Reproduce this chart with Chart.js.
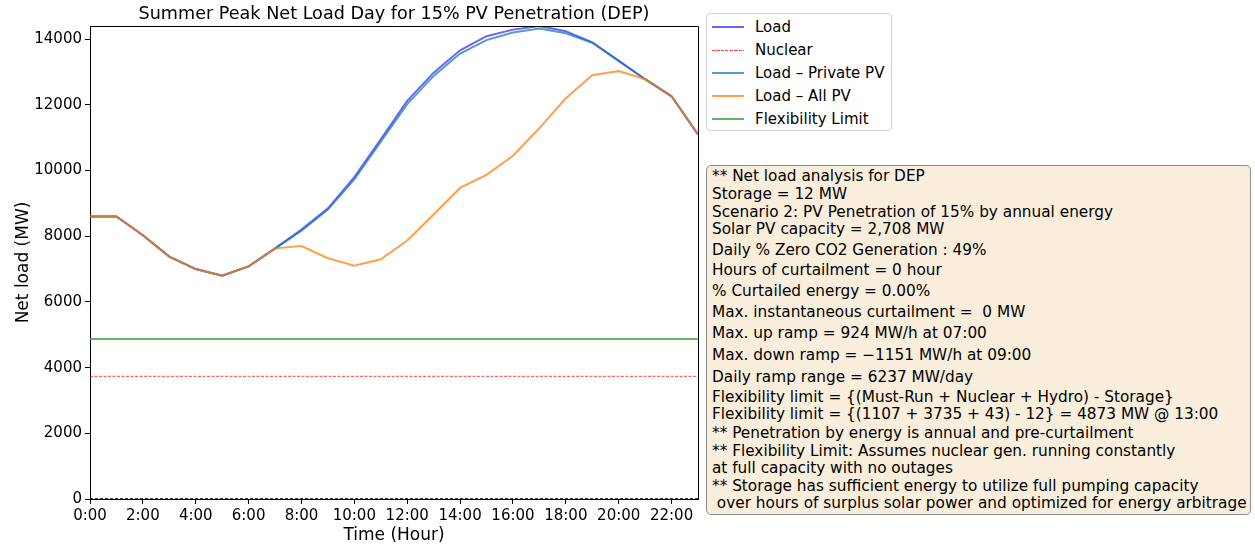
<!DOCTYPE html>
<html>
<head>
<meta charset="utf-8">
<title>Summer Peak Net Load Day</title>
<script src="https://cdn.jsdelivr.net/npm/chart.js@4.4.1/dist/chart.umd.min.js"></script>
<style>
  body { margin: 0; background: #fff; font-family: "DejaVu Sans", sans-serif; }
  #wrap { position: relative; width: 1255px; height: 548px; }
  #legend {
    position: absolute; left: 706px; top: 13px; width: 186px; height: 118px;
    border: 1px solid #d4d4d4; border-radius: 4px; background: #fff; box-sizing: border-box;
  }
  .lg-row { position: absolute; left: 0; height: 20px; font-size: 15px; color: #000; }
  .lg-row span.sw { position: absolute; left: 5px; width: 32px; }
  .lg-row span.tx { position: absolute; left: 48px; top: 0; white-space: nowrap; line-height: 20px; }
  #notes {
    position: absolute; left: 706px; top: 165px; width: 545px; height: 350px;
    border: 1px solid #8c8c8c; border-radius: 5px; background: #f9eedb; box-sizing: border-box;
  }
  #notes div { position: absolute; left: 5px; font-size: 15.3px; white-space: pre; color: #000; line-height: 18px; }
</style>
</head>
<body>
<div id="wrap">
  <canvas id="chart" width="1255" height="548"></canvas>
  <div id="legend"></div>
  <div id="notes"></div>
</div>
<script>
// hourly values, 0:00 .. 23:00 (MW)
const hours = [0, 1, 2, 3, 4, 5, 6, 7, 8, 9, 10, 11, 12, 13, 14, 15, 16, 17, 18, 19, 20, 21, 22, 23];
const load = [8600, 8600, 8030, 7380, 7000, 6800, 7080, 7630, 8200, 8850, 9800, 10950,
  12120, 12980, 13660, 14090, 14290, 14400, 14240, 13900, 13350, 12780, 12260, 11100];
const loadPrivatePV = [8600, 8600, 8030, 7380, 7000, 6800, 7080, 7620, 8170, 8810, 9730, 10880,
  12020, 12880, 13560, 13970, 14200, 14320, 14180, 13890, 13330, 12780, 12260, 11100];
const loadAllPV = [8600, 8600, 8030, 7380, 7000, 6800, 7080, 7630, 7700, 7330, 7100, 7300,
  7870, 8660, 9470, 9870, 10450, 11290, 12200, 12900, 13030, 12780, 12260, 11100];
const nuclear = 3735;
const flexLimit = 4873;

const yTicks = [0, 2000, 4000, 6000, 8000, 10000, 12000, 14000];
const xTicks = [0, 2, 4, 6, 8, 10, 12, 14, 16, 18, 20, 22];

const noteLines = [
  "** Net load analysis for DEP",
  "Storage = 12 MW",
  "Scenario 2: PV Penetration of 15% by annual energy",
  "Solar PV capacity = 2,708 MW",
  "Daily % Zero CO2 Generation : 49%",
  "Hours of curtailment = 0 hour",
  "% Curtailed energy = 0.00%",
  "Max. instantaneous curtailment =  0 MW",
  "Max. up ramp = 924 MW/h at 07:00",
  "Max. down ramp = \u22121151 MW/h at 09:00",
  "Daily ramp range = 6237 MW/day",
  "Flexibility limit = {(Must-Run + Nuclear + Hydro) - Storage}",
  "Flexibility limit = {(1107 + 3735 + 43) - 12} = 4873 MW @ 13:00",
  "** Penetration by energy is annual and pre-curtailment",
  "** Flexibility Limit: Assumes nuclear gen. running constantly",
  "at full capacity with no outages",
  "** Storage has sufficient energy to utilize full pumping capacity",
  " over hours of surplus solar power and optimized for energy arbitrage"
];
// top offsets of each note line inside the box (mathtext lines sit a little lower)
const noteTops = [1, 19, 37, 54, 75, 95, 116, 137, 158, 180, 202, 222, 239, 258, 276, 293, 311, 328];

const toPts = arr => arr.map((v, i) => ({ x: hours[i], y: v }));
const flat = v => hours.map(h => ({ x: h, y: v }));

const series = [
  { label: "Load", data: toPts(load), borderColor: "rgba(0,0,255,0.6)", borderWidth: 2, order: 6 },
  { label: "Nuclear", data: flat(nuclear), borderColor: "rgba(255,0,0,0.75)", borderWidth: 1, borderDash: [3, 1.5], order: 5 },
  { label: "Load \u2013 Private PV", data: toPts(loadPrivatePV), borderColor: "rgba(31,119,180,0.75)", borderWidth: 2, order: 4 },
  { label: "Load \u2013 All PV", data: toPts(loadAllPV), borderColor: "rgba(255,127,14,0.75)", borderWidth: 2, order: 3 },
  { label: "Flexibility Limit", data: flat(flexLimit), borderColor: "rgba(44,160,44,0.75)", borderWidth: 2, order: 2 }
];

const datasets = series.map(s => Object.assign({ pointRadius: 0, tension: 0, fill: false }, s));
// dashed zero line
datasets.push({ label: "zero", data: flat(0), borderColor: "#000", borderWidth: 1.5, borderDash: [3, 2],
  pointRadius: 0, order: 1 });

// title + top/right frame
const framePlugin = {
  id: "frame",
  afterDraw(chart) {
    const { ctx, chartArea: a } = chart;
    ctx.save();
    ctx.strokeStyle = "#000";
    ctx.lineWidth = 1;
    ctx.beginPath();
    ctx.moveTo(a.left, a.top + 0.5);
    ctx.lineTo(a.right + 0.5, a.top + 0.5);
    ctx.lineTo(a.right + 0.5, a.bottom);
    ctx.stroke();
    ctx.fillStyle = "#000";
    ctx.font = "17.6px 'DejaVu Sans'";
    ctx.textAlign = "center";
    ctx.textBaseline = "alphabetic";
    ctx.fillText("Summer Peak Net Load Day for 15% PV Penetration (DEP)", (a.left + a.right) / 2, 19);
    ctx.restore();
  }
};

const tickFont = { family: "'DejaVu Sans'", size: 15 };

new Chart(document.getElementById("chart"), {
  type: "line",
  data: { datasets },
  options: {
    responsive: false,
    animation: false,
    layout: { padding: { top: 26, right: 557, left: 0, bottom: 0 } },
    plugins: { legend: { display: false }, tooltip: { enabled: false } },
    scales: {
      x: {
        type: "linear", min: 0, max: 23,
        afterBuildTicks: s => { s.ticks = xTicks.map(v => ({ value: v })); },
        afterFit: s => { s.height = 49; },
        ticks: { color: "#000", font: tickFont, padding: 3, maxRotation: 0, autoSkip: false,
          callback: v => v + ":00" },
        grid: { drawOnChartArea: false, drawTicks: true, tickLength: 5, color: "#000" },
        border: { display: true, color: "#000", width: 1 },
        title: { display: true, text: "Time (Hour)", color: "#000",
          font: { family: "'DejaVu Sans'", size: 17 }, padding: { top: 0, bottom: 2 } }
      },
      y: {
        // the top of the axis sits on the daily peak
        type: "linear", min: 0, max: Math.max(...load),
        afterBuildTicks: s => { s.ticks = yTicks.map(v => ({ value: v })); },
        afterFit: s => { s.width = 90; },
        ticks: { color: "#000", font: tickFont, padding: 3, autoSkip: false,
          callback: v => String(v) },
        grid: { drawOnChartArea: false, drawTicks: true, tickLength: 5, color: "#000" },
        border: { display: true, color: "#000", width: 1 },
        title: { display: true, text: "Net load (MW)", color: "#000",
          font: { family: "'DejaVu Sans'", size: 17 }, padding: { top: 13, bottom: 0 } }
      }
    }
  },
  plugins: [framePlugin]
});

// legend built from the line series
const legend = document.getElementById("legend");
series.forEach((s, i) => {
  const row = document.createElement("div");
  row.className = "lg-row";
  row.style.top = (3 + i * 23) + "px";
  const sw = document.createElement("span");
  sw.className = "sw";
  if (s.borderDash) {
    sw.style.top = "10px";
    sw.style.height = "1px";
    sw.style.background = "repeating-linear-gradient(to right, " + s.borderColor + " 0 3px, transparent 3px 4.5px)";
  } else {
    sw.style.top = "9px";
    sw.style.height = "2px";
    sw.style.background = s.borderColor;
  }
  const tx = document.createElement("span");
  tx.className = "tx";
  tx.textContent = s.label;
  row.appendChild(sw);
  row.appendChild(tx);
  legend.appendChild(row);
});

const notes = document.getElementById("notes");
noteLines.forEach((line, i) => {
  const d = document.createElement("div");
  d.style.top = noteTops[i] + "px";
  d.textContent = line;
  notes.appendChild(d);
});
</script>
</body>
</html>
